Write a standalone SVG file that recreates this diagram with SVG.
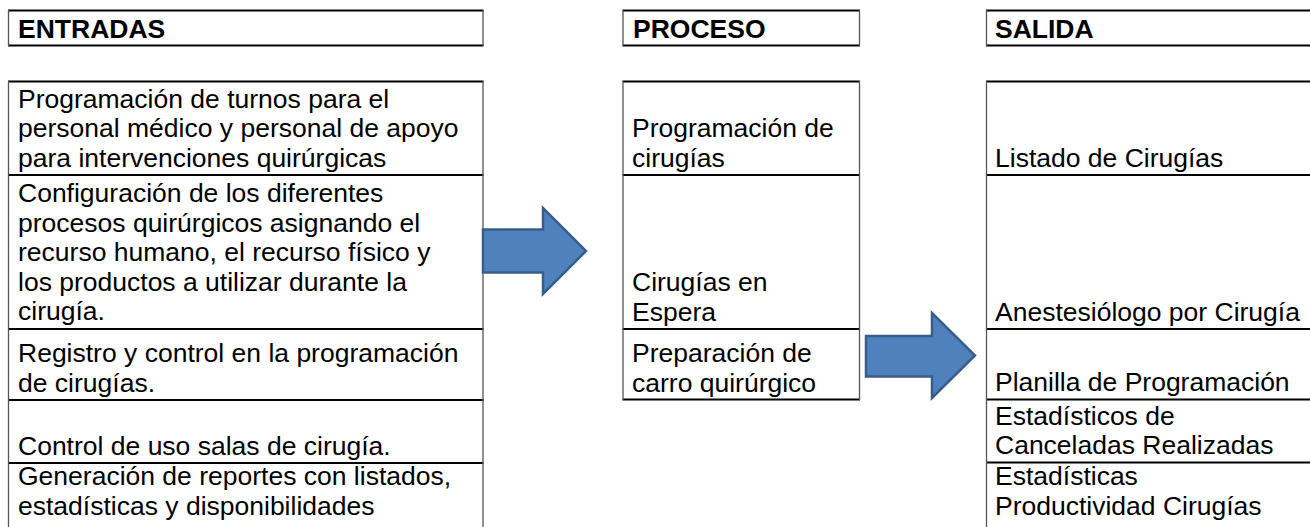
<svg xmlns="http://www.w3.org/2000/svg" width="1310" height="527" viewBox="0 0 1310 527">
<style>
.t{font-family:"Liberation Sans",Arial,sans-serif;font-size:26.5px;fill:#000}
.b{font-weight:bold}
.h{stroke:#000;stroke-width:2;fill:none}
.v{stroke:#555;stroke-width:1.3;fill:none}
.arrow{fill:#4F81BD;stroke:#385D8A;stroke-width:2.5;stroke-linejoin:miter}
</style>
<rect width="1310" height="527" fill="#fff"/>

<!-- Headers -->
<g id="hdr-entradas">
<path class="h" d="M8 10.5H483.5M8 45.5H483.5"/>
<path class="v" d="M8.5 10V46M483 10V46"/>
<text class="t b" x="18" y="37.5">ENTRADAS</text>
</g>
<g id="hdr-proceso">
<path class="h" d="M622.5 10.5H860M622.5 45.5H860"/>
<path class="v" d="M623 10V46M859.5 10V46"/>
<text class="t b" x="633" y="37.5">PROCESO</text>
</g>
<g id="hdr-salida">
<path class="h" d="M986 10.5H1310M986 45.5H1310"/>
<path class="v" d="M986.5 10V46"/>
<text class="t b" x="995" y="37.5">SALIDA</text>
</g>

<!-- Entradas column -->
<g id="ent-1">
<path class="h" d="M8 81.5H483.5M8 175H483.5"/>
<path class="v" d="M8.5 81V175M483 81V175"/>
<text class="t" x="18" y="107.5">Programación de turnos para el</text>
<text class="t" x="18" y="137">personal médico y personal de apoyo</text>
<text class="t" x="18" y="166.5">para intervenciones quirúrgicas</text>
</g>
<g id="ent-2">
<path class="h" d="M8 329H483.5"/>
<path class="v" d="M8.5 175V329M483 175V329"/>
<text class="t" x="18" y="202">Configuración de los diferentes</text>
<text class="t" x="18" y="231.5">procesos quirúrgicos asignando el</text>
<text class="t" x="18" y="261">recurso humano, el recurso físico y</text>
<text class="t" x="18" y="290.5">los productos a utilizar durante la</text>
<text class="t" x="18" y="320">cirugía.</text>
</g>
<g id="ent-3">
<path class="h" d="M8 400H483.5"/>
<path class="v" d="M8.5 329V400M483 329V400"/>
<text class="t" x="18" y="362">Registro y control en la programación</text>
<text class="t" x="18" y="391.5">de cirugías.</text>
</g>
<g id="ent-4">
<path class="h" d="M8 463H483.5"/>
<path class="v" d="M8.5 400V463M483 400V463"/>
<text class="t" x="18" y="454.5">Control de uso salas de cirugía.</text>
</g>
<g id="ent-5">
<path class="v" d="M8.5 463V527M483 463V527"/>
<text class="t" x="18" y="485">Generación de reportes con listados,</text>
<text class="t" x="18" y="514.5">estadísticas y disponibilidades</text>
</g>

<!-- Proceso column -->
<g id="pro-1">
<path class="h" d="M622.5 81.5H860M622.5 175H860"/>
<path class="v" d="M623 81V175M859.5 81V175"/>
<text class="t" x="632" y="137">Programación de</text>
<text class="t" x="632" y="166.5">cirugías</text>
</g>
<g id="pro-2">
<path class="h" d="M622.5 329H860"/>
<path class="v" d="M623 175V329M859.5 175V329"/>
<text class="t" x="632" y="291">Cirugías en</text>
<text class="t" x="632" y="320.5">Espera</text>
</g>
<g id="pro-3">
<path class="h" d="M622.5 399.5H860"/>
<path class="v" d="M623 329V400M859.5 329V400"/>
<text class="t" x="632" y="362">Preparación de</text>
<text class="t" x="632" y="391.5">carro quirúrgico</text>
</g>

<!-- Salida column -->
<g id="sal-1">
<path class="h" d="M986 81.5H1310M986 175H1310"/>
<path class="v" d="M986.5 81V175"/>
<text class="t" x="995" y="166.5">Listado de Cirugías</text>
</g>
<g id="sal-2">
<path class="h" d="M986 329H1310"/>
<path class="v" d="M986.5 175V329"/>
<text class="t" x="995" y="320.5">Anestesiólogo por Cirugía</text>
</g>
<g id="sal-3">
<path class="h" d="M986 399.5H1310"/>
<path class="v" d="M986.5 329V400"/>
<text class="t" x="995" y="391">Planilla de Programación</text>
</g>
<g id="sal-4">
<path class="h" d="M986 462.5H1310"/>
<path class="v" d="M986.5 400V463"/>
<text class="t" x="995" y="425">Estadísticos de</text>
<text class="t" x="995" y="454">Canceladas Realizadas</text>
</g>
<g id="sal-5">
<path class="v" d="M986.5 463V527"/>
<text class="t" x="995" y="485">Estadísticas</text>
<text class="t" x="995" y="514.5">Productividad Cirugías</text>
</g>

<!-- Connectors -->
<g id="connectors">
<polygon class="arrow" points="483,229.5 543,229.5 543,208 586,251 543,294 543,272.5 483,272.5"/>
<polygon class="arrow" points="866,336 932,336 932,313 975,355.5 932,398 932,376.5 866,376.5"/>
</g>
</svg>
